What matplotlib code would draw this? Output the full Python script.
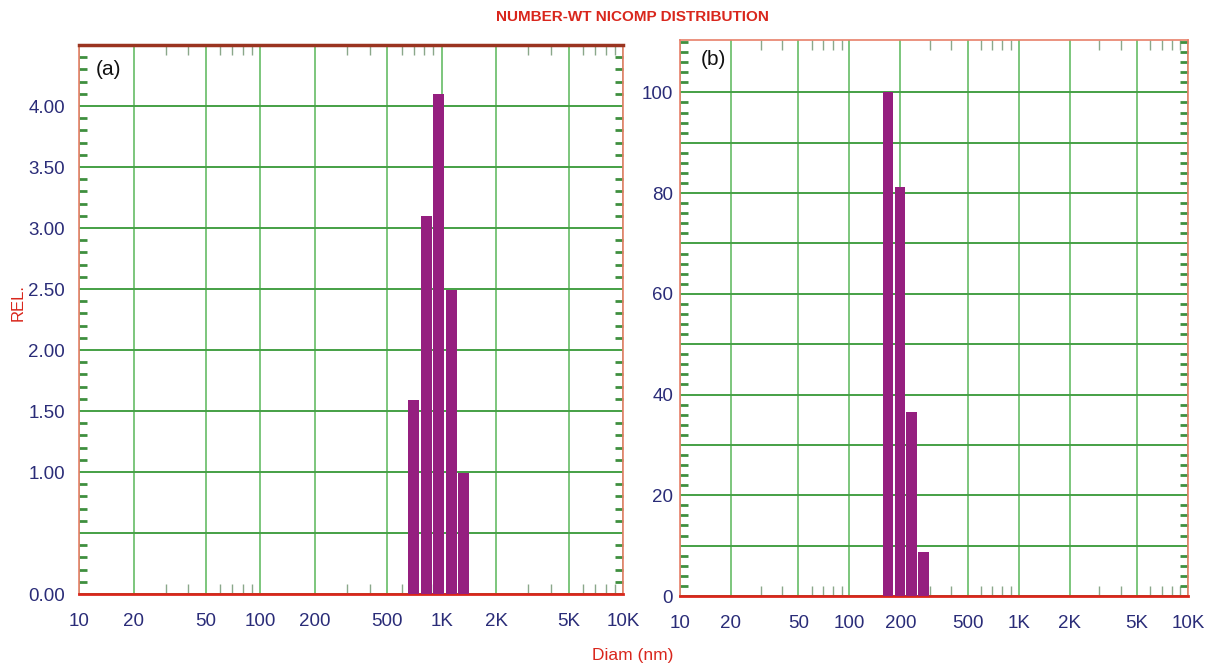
import numpy as np
import matplotlib
matplotlib.use('Agg')
import matplotlib.pyplot as plt
from matplotlib.ticker import FixedLocator, LogLocator, MultipleLocator, NullFormatter

# --- данные ---
diam_a = [696, 821, 960, 1128, 1320]
rel_a = [1.59, 3.10, 4.10, 2.49, 0.99]

diam_b = [169, 199, 233, 274]
rel_b = [100, 81.2, 36.5, 8.7]

x_ticks = [10, 20, 50, 100, 200, 500, 1000, 2000, 5000, 10000]
x_labels = ['10', '20', '50', '100', '200', '500', '1K', '2K', '5K', '10K']

y_ticks_a = [0, 0.5, 1.0, 1.5, 2.0, 2.5, 3.0, 3.5, 4.0]
y_labels_a = ['0.00', '', '1.00', '1.50', '2.00', '2.50', '3.00', '3.50', '4.00']

y_ticks_b = [0, 10, 20, 30, 40, 50, 60, 70, 80, 90, 100]
y_labels_b = ['0', '', '20', '', '40', '', '60', '', '80', '', '100']

# --- стиль ---
FONT = ['DejaVu Sans Condensed', 'Liberation Sans Narrow', 'Liberation Sans', 'DejaVu Sans']
plt.rcParams['font.family'] = FONT
NAVY = '#2a2c78'
RED = '#d9261c'
BAR = '#951f7f'
GRID_H = '#45a045'
GRID_V = '#72c172'


def setup_axes(ax, yticks, ylabels, ylim, yminor, ypad):
    ax.set_xscale('log')
    ax.set_xlim(10, 10000)
    ax.set_ylim(*ylim)
    ax.set_axisbelow(True)

    ax.xaxis.set_major_locator(FixedLocator(x_ticks))
    ax.set_xticklabels(x_labels)
    ax.xaxis.set_minor_locator(LogLocator(base=10, subs=(3, 4, 6, 7, 8, 9)))
    ax.xaxis.set_minor_formatter(NullFormatter())

    ax.yaxis.set_major_locator(FixedLocator(yticks))
    ax.set_yticklabels(ylabels)
    ax.yaxis.set_minor_locator(MultipleLocator(yminor))

    ax.grid(True, axis='y', which='major', color=GRID_H, lw=1.4)
    ax.grid(True, axis='x', which='major', color=GRID_V, lw=1.3)

    ax.tick_params(which='major', length=0, labelsize=13.5, labelcolor=NAVY)
    ax.tick_params(axis='x', which='major', pad=14)
    ax.tick_params(axis='y', which='major', pad=ypad)
    ax.tick_params(axis='x', which='minor', direction='in', length=7,
                   width=1.0, color='#8aa88a', top=True, bottom=True)
    ax.tick_params(axis='y', which='minor', direction='in', length=6,
                   width=2.0, color='#3f8f3f', left=True, right=True)

    for side in ['left', 'right', 'top']:
        ax.spines[side].set_color('#e8806a')
        ax.spines[side].set_linewidth(1.2)
    ax.spines['bottom'].set_color(RED)
    ax.spines['bottom'].set_linewidth(2.0)


def draw_bars(ax, diam, rel):
    d = np.array(diam, dtype=float)
    left = d * 10 ** (-0.030)
    right = d * 10 ** (0.030)
    ax.bar(left, rel, width=right - left, align='edge', color=BAR,
           edgecolor='none', zorder=3)


fig = plt.figure(figsize=(12.05, 6.66), dpi=100)
ax_a = fig.add_axes([0.0656, 0.1081, 0.4515, 0.8243])
ax_b = fig.add_axes([0.5643, 0.1051, 0.4216, 0.8348])

setup_axes(ax_a, y_ticks_a, y_labels_a, (0, 4.5), 0.1, 10)
setup_axes(ax_b, y_ticks_b, y_labels_b, (0, 110.4), 2, 5)
ax_a.spines['top'].set_color('#9a3420')
ax_a.spines['top'].set_linewidth(2.5)

draw_bars(ax_a, diam_a, rel_a)
draw_bars(ax_b, diam_b, rel_b)

ax_a.text(0.03, 0.955, '(a)', transform=ax_a.transAxes, fontsize=15,
          family='Liberation Sans', va='center', ha='left', color='#111111')
ax_b.text(0.04, 0.965, '(b)', transform=ax_b.transAxes, fontsize=15,
          family='Liberation Sans', va='center', ha='left', color='#111111')

fig.text(0.525, 0.974, 'NUMBER-WT NICOMP DISTRIBUTION', color=RED,
         fontsize=11, fontweight='bold', ha='center', va='center')
fig.text(0.015, 0.545, 'REL.', color=RED, fontsize=12, rotation=90,
         ha='center', va='center')
fig.text(0.525, 0.016, 'Diam (nm)', color=RED, fontsize=12.5,
         ha='center', va='center')

fig.savefig('out.png', dpi=100, facecolor='white')
plt.close(fig)
